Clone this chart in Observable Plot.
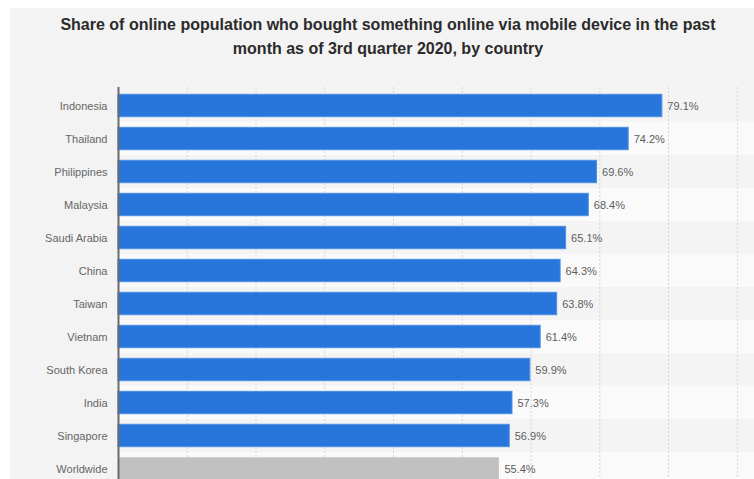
<!DOCTYPE html>
<html>
<head>
<meta charset="utf-8">
<script src="https://cdn.jsdelivr.net/npm/d3@7"></script>
<script src="https://cdn.jsdelivr.net/npm/@observablehq/plot@0.6"></script>
<style>
  html, body { margin: 0; padding: 0; background: #fff; }
  #wrap { position: relative; width: 754px; height: 479px; overflow: hidden; background: #fff; font-family: "Liberation Sans", Arial, Helvetica, sans-serif; }
  #bg { position: absolute; left: 10px; top: 8px; right: 0; bottom: 0; background: #f3f3f3; }
  .t { position: absolute; font-weight: bold; font-size: 16px; line-height: normal; color: #2b2b2b; white-space: nowrap; transform: translateX(-50%); }
  #chart { position: absolute; left: 0; top: 0; }
</style>
</head>
<body>
<div id="wrap">
  <div id="bg"></div>
  <div class="t" id="t1" style="left:388px; top:16px;">Share of online population who bought something online via mobile device in the past</div>
  <div class="t" id="t2" style="left:388px; top:39.5px;">month as of 3rd quarter 2020, by country</div>
  <div id="chart"></div>
</div>
<script>
const countries = ["Indonesia","Thailand","Philippines","Malaysia","Saudi Arabia","China","Taiwan","Vietnam","South Korea","India","Singapore","Worldwide"];
const values = [79.1, 74.2, 69.6, 68.4, 65.1, 64.3, 63.8, 61.4, 59.9, 57.3, 56.9, 55.4];
const gridTicks = [10, 20, 30, 40, 50, 60, 70, 80, 90];

const data = countries.map((c, i) => ({country: c, value: values[i], world: c === "Worldwide"}));
const darkRows = countries.filter((c, i) => i % 2 === 0);
const lightRows = countries.filter((c, i) => i % 2 === 1);
const xMax = 92.5;

const chart = Plot.plot({
  width: 754,
  height: 486,
  marginLeft: 118,
  marginRight: 0,
  marginTop: 87,
  marginBottom: 0,
  style: {background: "transparent", fontFamily: "'Liberation Sans', Arial, sans-serif", fontSize: "11px", overflow: "visible"},
  x: {domain: [0, xMax], axis: null},
  y: {domain: countries, axis: null, padding: 0},
  marks: [
    Plot.barX(darkRows, {y: d => d, x1: 0, x2: xMax, fill: "#f4f4f4"}),
    Plot.barX(lightRows, {y: d => d, x1: 0, x2: xMax, fill: "#fafafa"}),
    Plot.ruleX(gridTicks, {stroke: "#d4d4d4", strokeWidth: 1, strokeDasharray: "2,2"}),
    Plot.barX(data.filter(d => !d.world), {y: "country", x: "value", fill: "#2876dc", stroke: "#4d8fe4", strokeWidth: 1, insetTop: 5.3, insetBottom: 5.3}),
    Plot.barX(data.filter(d => d.world), {y: "country", x: "value", fill: "#c1c1c1", insetTop: 5.3, insetBottom: 5.3}),
    Plot.ruleX([0], {stroke: "#6b6b6b", strokeWidth: 2}),
    Plot.text(data, {y: "country", x: "value", text: d => d.value.toFixed(1) + "%", dx: 5, textAnchor: "start", fill: "#5e5e5e", fontSize: 11}),
    Plot.text(data, {y: "country", x: 0, text: "country", dx: -11, textAnchor: "end", fill: "#666666", fontSize: 11})
  ]
});
document.getElementById("chart").appendChild(chart);
</script>
</body>
</html>
